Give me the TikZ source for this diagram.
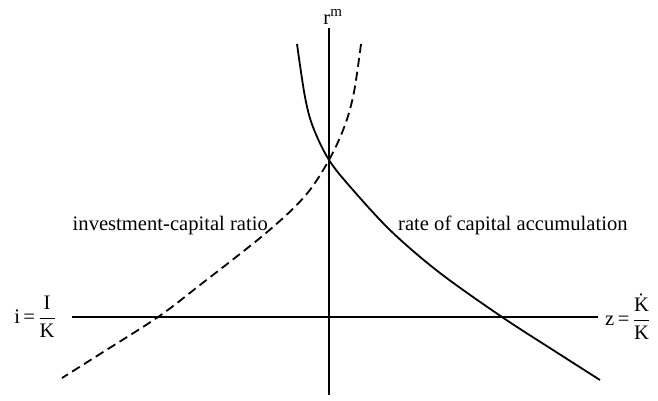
\documentclass[tikz,border=0pt]{standalone}
\usepackage{fontspec}
\setmainfont{Liberation Serif}
\begin{document}
\begin{tikzpicture}[x=1pt,y=-1pt,
  axis/.style={line width=2pt},
  curve/.style={line width=1.8pt},
  dashcurve/.style={line width=1.8pt, dash pattern=on 9pt off 5pt},
  lbl/.style={inner sep=0pt, font=\fontsize{20.6}{24}\selectfont},
]
\useasboundingbox (0,0) rectangle (658,400);
% axes
\coordinate (vtop) at (329,28);
\coordinate (vbot) at (329,395);
\coordinate (hl) at (72,317);
\coordinate (hr) at (598,317);
\draw[axis] (vtop) -- (vbot);
\draw[axis] (hl) -- (hr);
% solid curve: rate of capital accumulation
\draw[curve] plot[smooth, tension=0.55] coordinates {(297,44) (305,97) (313,127) (329,160) (353,190) (392,232) (440,273) (502,317) (553,350) (600,380)};
% dashed curve: investment-capital ratio
\draw[dashcurve] plot[smooth, tension=0.55] coordinates {(361,44) (354,92) (345,125) (329,160) (305,196) (266,233) (200,285) (158,317) (100,354) (62,378)};
% labels
\node[lbl, anchor=base east] (inv) at (268,230) {investment-capital ratio};
\node[lbl, anchor=base west] (rate) at (398,230) {rate of capital accumulation};
\node[lbl, anchor=base] (rm) at (333,24) {r$^{\mbox{\fontsize{15}{17}\selectfont m}}$};
\node[lbl, anchor=east] (ilab) at (56,317) {i\,=\,$\displaystyle\frac{\mbox{I}}{\mbox{K}}$};
\node[lbl, anchor=west] (zlab) at (605,317) {z\,=\,$\displaystyle\frac{\mbox{\.K}}{\mbox{K}}$};
\end{tikzpicture}
\end{document}
